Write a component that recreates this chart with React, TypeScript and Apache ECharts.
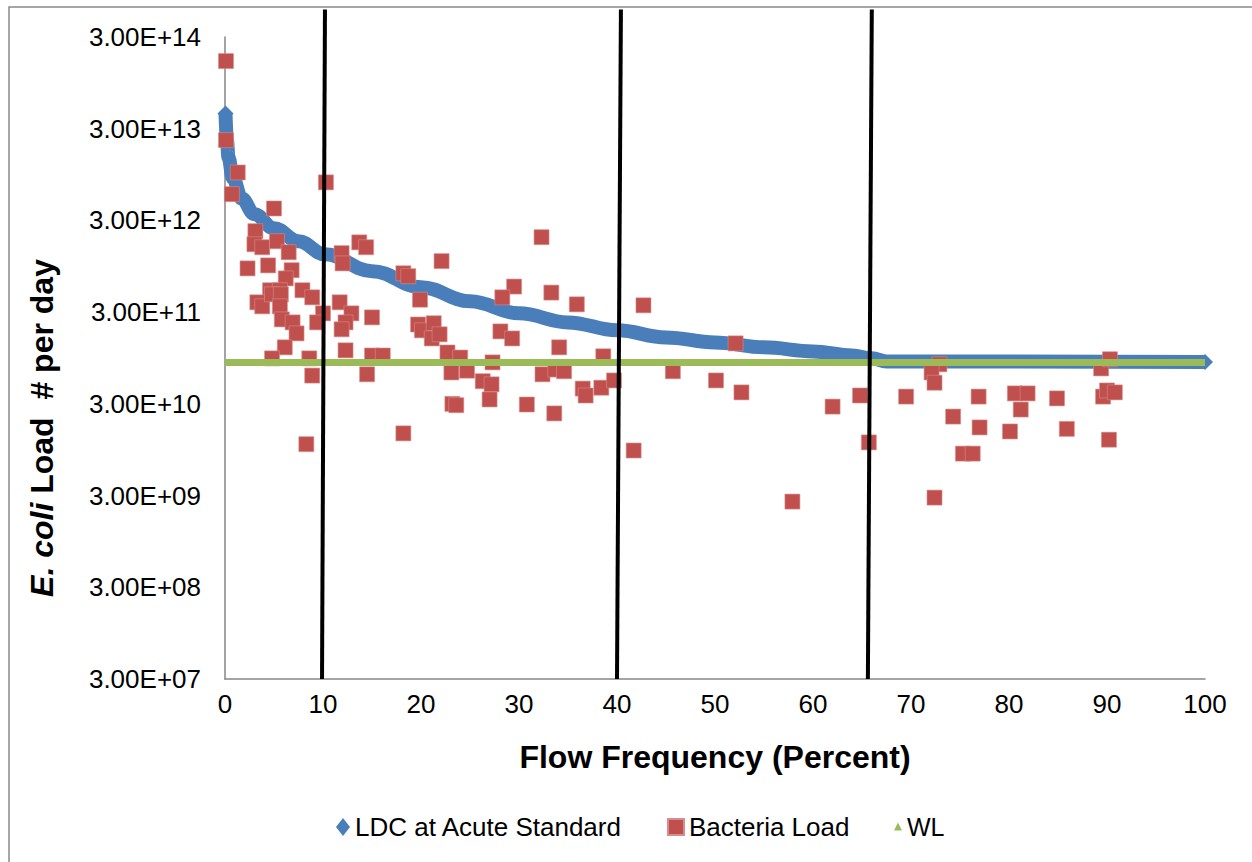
import { useEffect, useRef } from "react";
import * as echarts from "echarts";

// ---- data ----
const yTickExponents = [7, 8, 9, 10, 11, 12, 13, 14]; // ticks at 3.00E+07 ... 3.00E+14

// LDC at Acute Standard (flow frequency %, load #/day)
const ldcX = [0.05, 0.2, 0.35, 0.8, 1.7, 3, 5, 7.5, 10.2, 15, 20, 25, 30, 35, 40, 45, 50, 55, 60, 64, 66, 67.5, 100];
const ldcLoad = [
  4.4e13, 2.25e13, 1.47e13, 8.7e12, 5.2e12, 3.5e12, 2.46e12, 1.78e12, 1.28e12, 8.4e11, 5.6e11, 3.94e11,
  2.91e11, 2.32e11, 1.9e11, 1.59e11, 1.4e11, 1.24e11, 1.12e11, 1.01e11, 9.4e10, 8.7e10, 8.6e10,
];

// Bacteria Load observations
const bactX = [
  0.1, 0.1, 1.3, 0.7, 5.0, 10.3, 3.1, 3.0, 3.8, 5.3, 6.5, 2.3, 4.4, 6.8, 6.2, 7.9, 4.6, 5.6,
  11.9, 12.0, 13.7, 14.4, 18.2, 18.7, 22.1, 3.3, 3.8, 4.8, 5.7, 5.6, 8.9, 5.8, 6.9, 7.3,
  10.0, 9.4, 11.7, 12.9, 12.3, 11.9, 15.0, 6.1, 4.8, 8.6, 12.3, 15.0, 16.1, 8.9, 14.5, 8.3,
  18.2, 19.9, 19.7, 20.1, 21.3, 21.1, 21.9, 22.7, 24.0, 23.1, 24.7, 23.2, 23.6, 32.3, 29.5,
  28.3, 33.3, 35.9, 42.7, 28.1, 29.3, 34.1, 27.3, 38.6, 26.3, 27.2, 32.4, 33.7, 34.6, 36.5,
  36.8, 38.4, 39.7, 27.0, 30.8, 33.6, 41.7, 45.7, 50.1, 52.1, 52.7, 57.9, 62.0, 64.8, 65.7,
  69.5, 72.9, 72.1, 72.4, 72.4, 74.3, 75.3, 76.3, 76.9, 77.0, 80.1, 80.6, 81.9, 81.2, 84.9,
  85.9, 89.4, 90.3, 89.6, 90.0, 90.8, 90.2,
];
const bactLoad = [
  1.64e14, 2.25e13, 1.0e13, 5.8e12, 4.05e12, 7.8e12, 2.29e12, 1.65e12, 1.53e12, 1.78e12, 1.35e12, 9.0e11, 9.7e11, 8.6e11, 7.0e11, 5.2e11, 5.2e11, 5.2e11,
  1.32e12, 1.02e12, 1.73e12, 1.53e12, 7.96e11, 7.4e11, 1.08e12, 3.84e11, 3.47e11, 4.69e11, 4.69e11, 3.47e11, 4.35e11, 2.5e11, 2.32e11, 1.76e11,
  2.91e11, 2.32e11, 3.84e11, 2.91e11, 2.32e11, 1.95e11, 2.63e11, 1.24e11, 9.4e10, 9.4e10, 1.15e11, 1.01e11, 1.01e11, 6.1e10, 6.3e10, 1.09e10,
  1.43e10, 4.1e11, 2.2e11, 1.9e11, 2.27e11, 1.55e11, 1.72e11, 1.09e11, 9.6e10, 6.6e10, 6.9e10, 3.0e10, 2.9e10, 1.97e12, 5.7e11,
  4.35e11, 4.9e11, 3.65e11, 3.56e11, 1.85e11, 1.55e11, 1.24e11, 8.5e10, 9.9e10, 5.3e10, 4.9e10, 6.3e10, 7.1e10, 6.8e10, 4.4e10,
  3.7e10, 4.5e10, 5.4e10, 3.35e10, 2.95e10, 2.36e10, 9.3e9, 6.8e10, 5.4e10, 1.37e11, 4.0e10, 2.58e9, 2.8e10, 3.7e10, 1.14e10,
  3.6e10, 8.1e10, 6.6e10, 5.1e10, 2.85e9, 2.18e10, 8.6e9, 8.6e9, 3.6e10, 1.66e10, 1.5e10, 3.9e10, 3.9e10, 2.6e10, 3.44e10,
  1.6e10, 7.3e10, 9.2e10, 3.6e10, 4.2e10, 4.0e10, 1.22e10,
];

// WL
const wlX = [0, 100];
const wlLoad = [8.5e10, 8.5e10];

// flow regime divider lines (x at top, x at bottom)
const dividerTopX = [10.2, 40.4, 66.0];
const dividerBottomX = [9.9, 40.0, 65.6];
const dividerTopLoad = 6e14;
const dividerBottomLoad = 3e7;

const seriesNames = ["LDC at Acute Standard", "Bacteria Load", "WL"];

// axis uses log10(load / 3) so ticks fall on 3.00E+nn
const t = (v: number) => Math.log10(v / 3);
const pairs = (xs: number[], ys: number[]) => xs.map((x, i) => [x, t(ys[i])]);

export default function App() {
  const ref = useRef<HTMLDivElement>(null);

  useEffect(() => {
    if (!ref.current) return;
    const chart = echarts.init(ref.current, null, { renderer: "svg" });
    const font = "'Liberation Sans', Arial, sans-serif";
    const ldcData = pairs(ldcX, ldcLoad);

    const dividerSeries = dividerTopX.map((xt, i) => ({
      type: "line",
      name: "divider" + i,
      data: [
        [xt, t(dividerTopLoad)],
        [dividerBottomX[i], t(dividerBottomLoad)],
      ],
      symbol: "none",
      clip: false,
      silent: true,
      z: 10,
      lineStyle: { color: "#000", width: 4 },
    }));

    chart.setOption({
      animation: false,
      backgroundColor: "#ffffff",
      textStyle: { fontFamily: font },
      graphic: [
        {
          type: "rect",
          silent: true,
          z: -10,
          shape: { x: 9, y: 7, width: 1300, height: 900 },
          style: { fill: "none", stroke: "#898989", lineWidth: 1.5 },
        },
        {
          type: "text",
          x: 42,
          y: 428,
          rotation: Math.PI / 2,
          silent: true,
          style: {
            text: "{i|E. coli} Load  # per day",
            fill: "#000",
            fontSize: 32,
            fontWeight: "bold",
            fontFamily: font,
            align: "center",
            verticalAlign: "middle",
            rich: {
              i: { fontStyle: "italic", fontWeight: "bold", fontSize: 32, fill: "#000", fontFamily: font },
            },
          },
        },
      ],
      grid: { left: 225, right: 47, top: 37, bottom: 183 },
      xAxis: {
        type: "value",
        min: 0,
        max: 100,
        interval: 10,
        axisLine: { show: true, onZero: false, lineStyle: { color: "#868686", width: 1.5 } },
        axisTick: { show: false },
        splitLine: { show: false },
        axisLabel: { color: "#000", fontSize: 26, margin: 12, fontFamily: font },
        name: "Flow Frequency (Percent)",
        nameLocation: "middle",
        nameGap: 62,
        nameTextStyle: { color: "#000", fontSize: 32, fontWeight: "bold", fontFamily: font },
      },
      yAxis: {
        type: "value",
        min: 7,
        max: 14,
        interval: 1,
        axisLine: { show: true, onZero: false, lineStyle: { color: "#868686", width: 1.5 } },
        axisTick: { show: false },
        splitLine: { show: false },
        axisLabel: {
          color: "#000",
          fontSize: 26,
          margin: 24,
          fontFamily: font,
          formatter: (v: number) => {
            const e = yTickExponents.find((x) => Math.abs(x - v) < 1e-6) ?? Math.round(v);
            return "3.00E+" + String(e).padStart(2, "0");
          },
        },
      },
      legend: [
        {
          data: [{ name: seriesNames[0], icon: "diamond" }],
          left: 336,
          top: 814,
          padding: 0,
          itemWidth: 14,
          itemHeight: 18,
          textStyle: { color: "#000", fontSize: 26, fontFamily: font },
        },
        {
          data: [{ name: seriesNames[1], icon: "rect" }],
          left: 667,
          top: 814,
          padding: 0,
          itemWidth: 16,
          itemHeight: 16,
          textStyle: { color: "#000", fontSize: 26, fontFamily: font },
        },
        {
          data: [{ name: seriesNames[2], icon: "triangle" }],
          left: 894,
          top: 814,
          padding: 0,
          itemWidth: 8,
          itemHeight: 8,
          textStyle: { color: "#000", fontSize: 25, fontFamily: font },
        },
      ],
      series: [
        {
          type: "line",
          name: seriesNames[0],
          data: ldcData,
          smooth: 0.4,
          smoothMonotone: "x",
          symbol: "diamond",
          symbolSize: (_v: any, p: any) => (p.dataIndex === 0 || p.dataIndex === ldcData.length - 1 ? 16 : 0),
          itemStyle: { color: "#4a7ebb" },
          lineStyle: { color: "#4a7ebb", width: 14 },
          z: 2,
        },
        {
          type: "scatter",
          name: seriesNames[1],
          data: pairs(bactX, bactLoad),
          symbol: "rect",
          symbolSize: 15,
          itemStyle: { color: "#c0504d", opacity: 1, borderColor: "#d68d8b", borderWidth: 0.6 },
          z: 3,
        },
        {
          type: "line",
          name: seriesNames[2],
          data: pairs(wlX, wlLoad),
          symbol: "none",
          itemStyle: { color: "#9bbb59" },
          lineStyle: { color: "#9bbb59", width: 7 },
          z: 4,
        },
        ...dividerSeries,
      ],
    });

    return () => chart.dispose();
  }, []);

  return (
    <div
      ref={ref}
      style={{ position: "fixed", left: 0, top: 0, width: 1252, height: 862, background: "#fff" }}
    />
  );
}
